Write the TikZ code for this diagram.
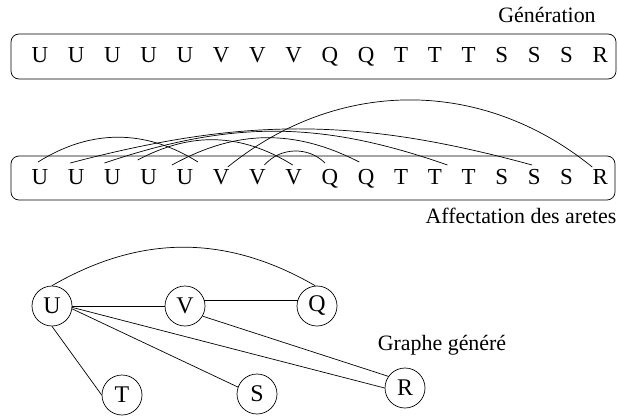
\documentclass[tikz,border=0pt]{standalone}
\usepackage{fontspec}
\setmainfont{Liberation Serif}
\usetikzlibrary{positioning}
\begin{document}
\begin{tikzpicture}[x=1bp, y=1bp, line width=0.7bp,
  letter/.style={inner sep=0pt, outer sep=0pt, font=\fontsize{23}{27}\selectfont},
  caption/.style={inner sep=0pt, anchor=base, font=\fontsize{22}{26}\selectfont},
  vertex/.style={draw, circle, minimum size=40bp, inner sep=0pt, font=\fontsize{24}{28}\selectfont},
  seqbox/.style={draw, rounded corners=8bp}]
\useasboundingbox (0,0) rectangle (618,417);

% the two rows of stubs: g = generation, a = edge assignment
\foreach \l [count=\i] in {U,U,U,U,U,V,V,V,Q,Q,T,T,T,S,S,S,R} {
  \ifnum\i=1
    \node[letter, anchor=base] (g1) at (40,355) {\l};
    \node[letter, anchor=base] (a1) at (40,233) {\l};
  \else
    \pgfmathtruncatemacro\prev{\i-1}
    \node[letter, base right=19.7bp of g\prev] (g\i) {\l};
    \node[letter, base right=19.7bp of a\prev] (a\i) {\l};
  \fi
}

\draw[seqbox] (11,338) rectangle (616,383);
\draw[seqbox] (11,217) rectangle (615,261);

\node[caption] (gen) at (547,394) {Génération};
\node[caption] (aff) at (521,194) {Affectation des aretes};
\node[caption] (gg) at (442,67) {Graphe généré};

% arc end points above the letters
\coordinate (s1) at ([shift={(-2,22)}]a1.base);
\coordinate (e1) at ([shift={(13,22)}]a5.base);
\coordinate (s2) at ([shift={(-6,21)}]a2.base);
\coordinate (e2) at ([shift={(-2,19)}]a15.base);
\coordinate (s3) at ([shift={(-8,21)}]a3.base);
\coordinate (e3) at ([shift={(12.5,19)}]a12.base);
\coordinate (s4) at ([shift={(-11,24)}]a4.base);
\coordinate (e4) at ([shift={(-1,19)}]a8.base);
\coordinate (s5) at ([shift={(-13,19)}]a5.base);
\coordinate (e5) at ([shift={(-7,22)}]a10.base);
\coordinate (s6) at ([shift={(6.5,17)}]a6.base);
\coordinate (e6) at ([shift={(-8,17)}]a17.base);
\coordinate (s7) at ([shift={(7,19)}]a7.base);
\coordinate (e7) at ([shift={(-5,21)}]a9.base);

\draw (s1) to[bend left=32] (e1);
\draw (s2) to[bend left=15] (e2);
\draw (s3) to[bend left=19] (e3);
\draw (s4) to[bend left=30] (e4);
\draw (s5) to[bend left=28] (e5);
\draw (s6) to[bend left=39] (e6);
\draw (s7) to[bend left=47] (e7);

% resulting graph
\node[vertex] (U) at (52,111) {U};
\node[vertex] (V) at (185,111) {V};
\node[vertex] (Q) at (317,111) {Q};
\node[vertex] (T) at (122,22) {T};
\node[vertex] (S) at (257,23) {S};
\node[vertex] (R) at (405,29) {R};

\draw (U.east) -- (V.west);
\draw (V.17) -- (Q.163);
\draw (U.north) to[bend left=30] (Q.95);
\draw (U.south) -- (T.west);
\draw (U.-8) -- (S.160);
\draw (U.-4) -- (R.west);
\draw (V.-30) -- (R.145);
\end{tikzpicture}
\end{document}
